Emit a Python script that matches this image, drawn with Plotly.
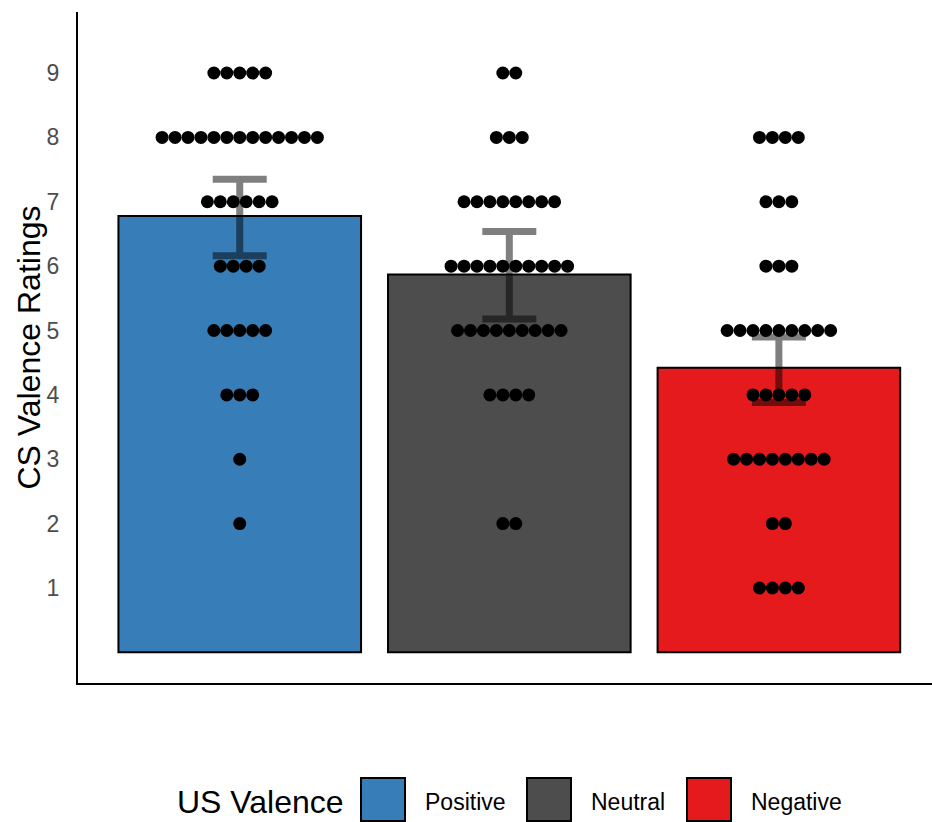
import plotly.graph_objects as go

# Groups and summary values
categories = ["Positive", "Neutral", "Negative"]
bar_colors = ["#377EB8", "#4D4D4D", "#E41A1C"]
means = [6.78, 5.87, 4.42]
ci_low = [6.16, 5.18, 3.88]
ci_high = [7.35, 6.54, 4.90]

# Individual ratings: number of participants giving each rating 1..9
ratings = [1, 2, 3, 4, 5, 6, 7, 8, 9]
counts_positive = [0, 1, 1, 3, 5, 4, 6, 13, 5]
counts_neutral = [0, 2, 0, 4, 9, 10, 8, 3, 2]
counts_negative = [4, 2, 8, 5, 9, 3, 3, 4, 0]

y_ticks = [1, 2, 3, 4, 5, 6, 7, 8, 9]

W, H = 932, 822
M_L, M_R, M_T, M_B = 78, 0, 12, 139
DOT_STEP = 0.048  # horizontal spacing between stacked dots (x units)
FONT = "Liberation Sans, Arial, sans-serif"

xpos = [1, 2, 3]

fig = go.Figure()

fig.add_trace(go.Bar(
    x=xpos, y=means, width=0.9,
    marker=dict(color=bar_colors, line=dict(color="black", width=2)),
    showlegend=False, hoverinfo="skip",
))

# Confidence intervals
fig.add_trace(go.Scatter(
    x=xpos, y=means, mode="markers",
    marker=dict(size=1, opacity=0),
    error_y=dict(
        type="data", symmetric=False,
        array=[h - m for h, m in zip(ci_high, means)],
        arrayminus=[m - l for m, l in zip(means, ci_low)],
        color="rgba(0,0,0,0.5)", thickness=7, width=27,
    ),
    showlegend=False, hoverinfo="skip",
))

# Dot plot of individual ratings, centred on each bar
dot_x, dot_y = [], []
for xc, counts in zip(xpos, [counts_positive, counts_neutral, counts_negative]):
    for r, n in zip(ratings, counts):
        for i in range(n):
            dot_x.append(xc + (i - (n - 1) / 2) * DOT_STEP)
            dot_y.append(r)

fig.add_trace(go.Scatter(
    x=dot_x, y=dot_y, mode="markers",
    marker=dict(size=13, color="black", line=dict(width=0)),
    showlegend=False, hoverinfo="skip",
))

pw = W - M_L - M_R
ph = H - M_T - M_B


def px_to_paper_x(px):
    return (px - M_L) / pw


def px_to_paper_y(py):
    return (H - M_B - py) / ph


shapes = []
annotations = []

# Y axis title
annotations.append(dict(
    x=px_to_paper_x(28), y=0.5, xref="paper", yref="paper",
    text="CS Valence Ratings", textangle=-90, showarrow=False,
    font=dict(family=FONT, size=32, color="black"),
    xanchor="center", yanchor="middle",
))

# Legend drawn with shapes and text
legend_y_top, legend_y_bot, legend_y_mid = 778, 822, 802
annotations.append(dict(
    x=px_to_paper_x(175), y=px_to_paper_y(legend_y_mid),
    xref="paper", yref="paper", text="US Valence", showarrow=False,
    font=dict(family=FONT, size=32, color="black"),
    xanchor="left", yanchor="middle",
))
key_left = [361, 527, 687]
for cat, col, kx in zip(categories, bar_colors, key_left):
    shapes.append(dict(
        type="rect", xref="paper", yref="paper",
        x0=px_to_paper_x(kx), x1=px_to_paper_x(kx + 44),
        y0=px_to_paper_y(legend_y_bot - 1), y1=px_to_paper_y(legend_y_top),
        fillcolor=col, line=dict(color="black", width=2),
    ))
    annotations.append(dict(
        x=px_to_paper_x(kx + 62), y=px_to_paper_y(legend_y_mid),
        xref="paper", yref="paper", text=cat, showarrow=False,
        font=dict(family=FONT, size=23, color="black"),
        xanchor="left", yanchor="middle",
    ))

fig.update_layout(
    width=W, height=H,
    margin=dict(l=M_L, r=M_R, t=M_T, b=M_B, pad=0),
    paper_bgcolor="white", plot_bgcolor="white",
    font=dict(family=FONT),
    xaxis=dict(
        range=[0.4, 3.568], showgrid=False, zeroline=False,
        showticklabels=False, ticks="", showline=True,
        linecolor="black", linewidth=2,
    ),
    yaxis=dict(
        range=[-0.476, 9.948], showgrid=False, zeroline=False,
        tickvals=y_ticks, ticktext=[str(t) for t in y_ticks],
        ticks="", showline=True, linecolor="black", linewidth=2,
        tickfont=dict(family=FONT, size=23, color="#4D4D4D"),
        ticklabelstandoff=12,
    ),
    shapes=shapes,
    annotations=annotations,
)

fig.write_html("out.html")
